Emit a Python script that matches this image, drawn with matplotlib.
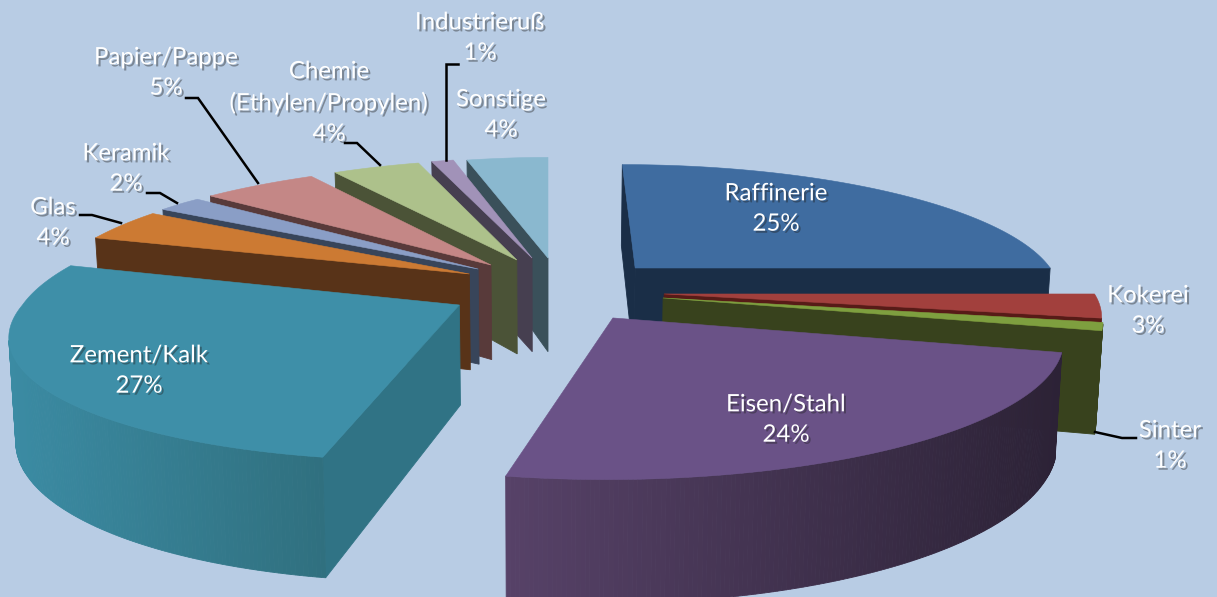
import numpy as np
import matplotlib.pyplot as plt
import matplotlib.patheffects as pe
from matplotlib.colors import to_rgb

categories = ["Raffinerie", "Kokerei", "Sinter", "Eisen/Stahl", "Zement/Kalk", "Glas",
              "Keramik", "Papier/Pappe", "Chemie\n(Ethylen/Propylen)", "Industrieruß", "Sonstige"]
shares = [25, 3, 1, 24, 27, 4, 2, 5, 4, 1, 4]

# colours per slice: top face, cut wall, rim left, rim right
top_colors = ["#3f6ca0", "#a2403d", "#7e9f3f", "#6a5287", "#3e8fa8", "#cc7a33",
              "#8a9ec6", "#c48786", "#adc18b", "#a192b8", "#8ab8cf"]
wall_colors = ["#1a2e47", "#571b17", "#38421d", "#2c2236", "#307385", "#583318",
               "#38455a", "#583a3a", "#4b5337", "#463f50", "#3a505a"]
rim_left = ["#1a2e47", "#571b17", "#38421d", "#574268", "#3b8ba3", "#583318",
            "#38455a", "#583a3a", "#4b5337", "#463f50", "#3a505a"]
rim_right = ["#1a2e47", "#571b17", "#38421d", "#2c2236", "#30707f", "#583318",
             "#38455a", "#583a3a", "#4b5337", "#463f50", "#3a505a"]

# how far each slice is pulled out, in pie radii (sideways, towards the back)
explode_x = [0.21, 0.27, 0.266, 0.146, -0.203, -0.188, -0.168, -0.138, -0.076, -0.039, 0.0]
explode_v = [0.0, -0.216, -0.248, -0.402, -0.303, -0.051, -0.009, 0.026, 0.070, 0.087, 0.087]

# back slices first, front slices last
draw_order = [10, 9, 8, 7, 6, 5, 0, 1, 2, 4, 3]

# perspective set-up in pixels
VANISH_X = 548
HORIZON = -435
PLANE_H = 703
RADIUS = 415
PERSP = 0.165
DEPTH = 95
DOWN_TAPER = 0.013
FRONT_LEAN = 0.038
BACK_SHIFT = 0.018
BACK_STRETCH = 1.045


def project(x, v, z=0.0):
    w = 1 + PERSP * np.asarray(v)
    sx = RADIUS * np.asarray(x) / w * (1 - DOWN_TAPER * z / DEPTH)
    return VANISH_X + sx, HORIZON + (PLANE_H + z) / w


fig = plt.figure(figsize=(12.17, 5.97), dpi=100, facecolor="#b8cce4")
ax = fig.add_axes([0, 0, 1, 1])
ax.set_xlim(0, 1217)
ax.set_ylim(597, 0)
ax.axis("off")


def draw_slice(i, a0, a1):
    n = max(6, int((a1 - a0) * 2))
    theta = np.radians(np.linspace(a0, a1, n))
    ex, ev = explode_x[i], explode_v[i]
    u, v = np.sin(theta), np.cos(theta)
    # the pie is not quite a true circle on screen: front leans left, back reaches further
    back_left = np.clip(-u / 0.15, 0, 1) * np.clip((0.8 + u) / 0.25, 0, 1)
    rim_u = u + FRONT_LEAN * np.minimum(v, 0) + BACK_SHIFT * back_left * (v > 0)
    rim_v = np.where(v > 0, v * BACK_STRETCH, v)
    # outline of the top face, clockwise: apex, then along the rim
    wx = np.r_[ex, ex + rim_u]
    wv = np.r_[ev, ev + rim_v]
    tx, ty = project(wx, wv)
    bx, by = project(wx, wv, DEPTH)
    zo = draw_order.index(i) * 3

    c0, c1 = np.array(to_rgb(rim_left[i])), np.array(to_rgb(rim_right[i]))
    npts = len(tx)
    for j in range(npts):
        k = (j + 1) % npts
        qx = [tx[j], tx[k], bx[k], bx[j]]
        qy = [ty[j], ty[k], by[k], by[j]]
        # only walls that face the viewer
        area = sum(qx[m] * qy[(m + 1) % 4] - qx[(m + 1) % 4] * qy[m] for m in range(4))
        if area >= 0:
            continue
        if j == 0 or k == 0:
            col = wall_colors[i]
        else:
            f = (tx[j] - tx[1:].min()) / max(np.ptp(tx[1:]), 1)
            col = c0 + (c1 - c0) * f
        ax.fill(qx, qy, color=col, lw=0.6, zorder=zo)
    ax.fill(tx, ty, color=top_colors[i], lw=0.4, zorder=zo + 1)


edges = np.cumsum([0] + shares) / sum(shares) * 360
for i in range(len(shares)):
    draw_slice(i, edges[i], edges[i + 1])

# label block centres
label_x = [776, 1148, 1170, 786, 139, 53, 126, 166, 329, 480, 501]
label_y = [209, 311, 446, 420, 371, 223, 169, 73, 103, 38, 115]
shadow = [pe.SimplePatchShadow(offset=(1.5, -1.5), shadow_rgbFace="#202020", alpha=0.4), pe.Normal()]
for name, share, x, y in zip(categories, shares, label_x, label_y):
    ax.text(x, y, f"{name}\n{share}%", ha="center", va="center", color="white",
            family="Lato", fontsize=17.3, linespacing=1.55, zorder=100, path_effects=shadow)

# leader lines
leaders = [
    ([80, 92, 121], [215, 215, 223]),
    ([147, 160, 177], [193, 193, 203]),
    ([186, 198, 258], [98, 98, 183]),
    ([345, 357, 380], [143, 143, 165]),
    ([458, 446, 446], [64, 64, 160]),
    ([1136, 1122, 1095], [438, 438, 432]),
]
for lx, ly in leaders:
    ax.plot(lx, ly, color="black", lw=1.8, solid_joinstyle="miter", zorder=90)

fig.savefig("out.png", dpi=100, facecolor=fig.get_facecolor())
